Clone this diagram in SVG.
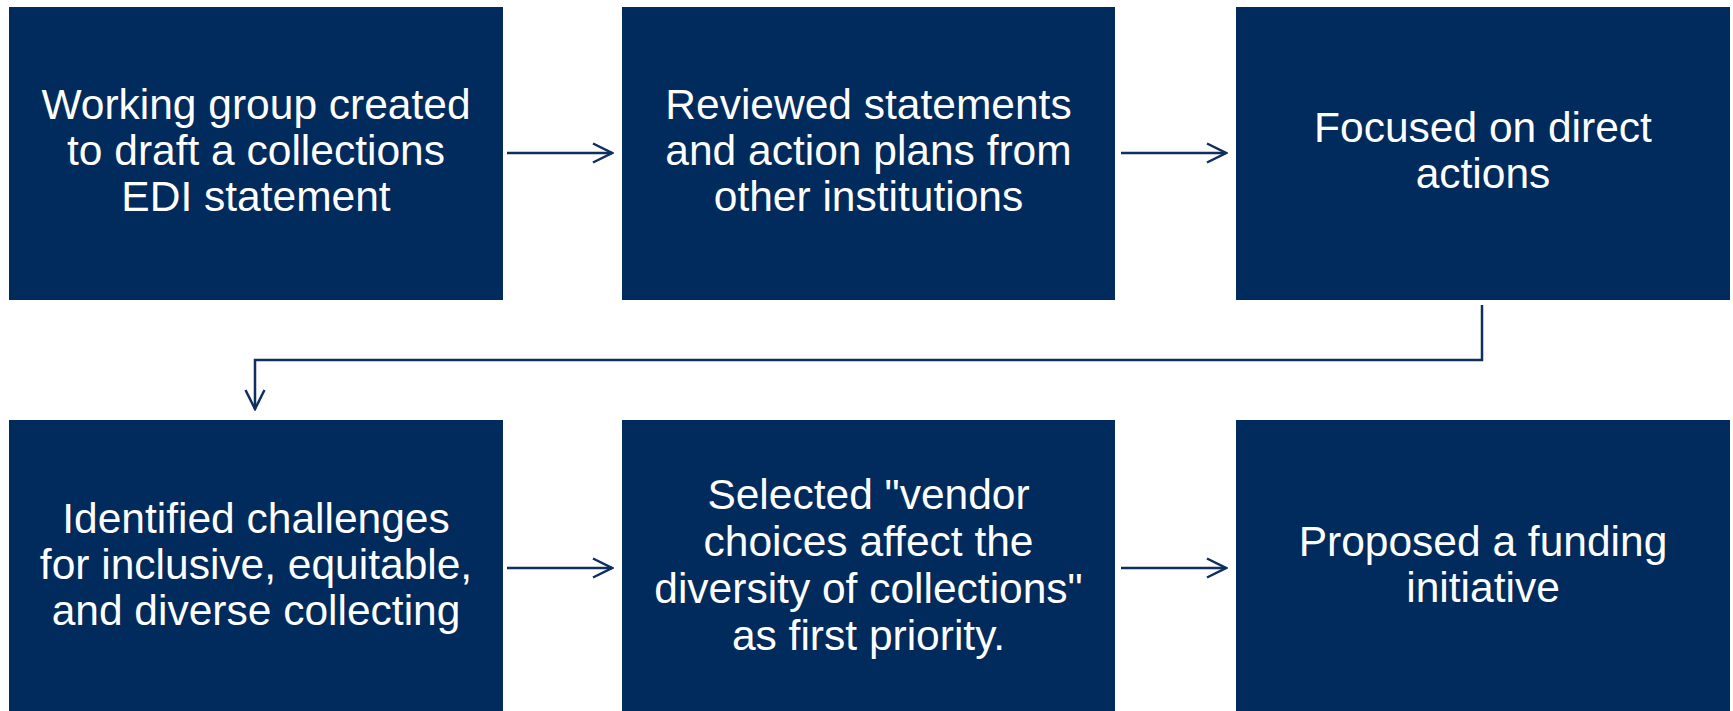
<svg xmlns="http://www.w3.org/2000/svg" width="1733" height="711" viewBox="0 0 1733 711">
<style>
.box{fill:#002B5C;}
.t{font-family:"Liberation Sans",Arial,sans-serif;font-size:42.5px;fill:#FFFFFF;text-anchor:middle;}
.c{fill:none;stroke:#0F2F5E;stroke-width:2.5;}
</style>
<defs>
<marker id="arr" viewBox="0 0 22 22" refX="20" refY="11" markerWidth="22" markerHeight="22" markerUnits="userSpaceOnUse" orient="auto">
<path d="M1,1.5 L20,11 L1,20.5" fill="none" stroke="#0F2F5E" stroke-width="2.5"/>
</marker>
</defs>
<rect width="1733" height="711" fill="#FFFFFF"/>
<g id="n1"><rect class="box" x="9" y="7" width="494" height="293"/>
<text class="t"><tspan x="256" y="119">Working group created</tspan><tspan x="256" y="165">to draft a collections</tspan><tspan x="256" y="211">EDI statement</tspan></text></g>
<g id="n2"><rect class="box" x="622" y="7" width="493" height="293"/>
<text class="t"><tspan x="868.5" y="119">Reviewed statements</tspan><tspan x="868.5" y="165">and action plans from</tspan><tspan x="868.5" y="211">other institutions</tspan></text></g>
<g id="n3"><rect class="box" x="1236" y="7" width="494" height="293"/>
<text class="t"><tspan x="1483" y="142">Focused on direct</tspan><tspan x="1483" y="188">actions</tspan></text></g>
<g id="n4"><rect class="box" x="9" y="420" width="494" height="300"/>
<text class="t"><tspan x="256" y="533">Identified challenges</tspan><tspan x="256" y="579">for inclusive, equitable,</tspan><tspan x="256" y="625">and diverse collecting</tspan></text></g>
<g id="n5"><rect class="box" x="622" y="420" width="493" height="300"/>
<text class="t"><tspan x="868.5" y="509">Selected "vendor</tspan><tspan x="868.5" y="556">choices affect the</tspan><tspan x="868.5" y="603">diversity of collections"</tspan><tspan x="868.5" y="650">as first priority.</tspan></text></g>
<g id="n6"><rect class="box" x="1236" y="420" width="494" height="300"/>
<text class="t"><tspan x="1483" y="556">Proposed a funding</tspan><tspan x="1483" y="602">initiative</tspan></text></g>
<g id="connectors">
<line class="c" x1="507" y1="153" x2="612" y2="153" marker-end="url(#arr)"/>
<line class="c" x1="1121" y1="153" x2="1226" y2="153" marker-end="url(#arr)"/>
<polyline class="c" points="1482,305 1482,360 255,360 255,409" marker-end="url(#arr)"/>
<line class="c" x1="507" y1="568" x2="612" y2="568" marker-end="url(#arr)"/>
<line class="c" x1="1121" y1="568" x2="1226" y2="568" marker-end="url(#arr)"/>
</g>
</svg>
